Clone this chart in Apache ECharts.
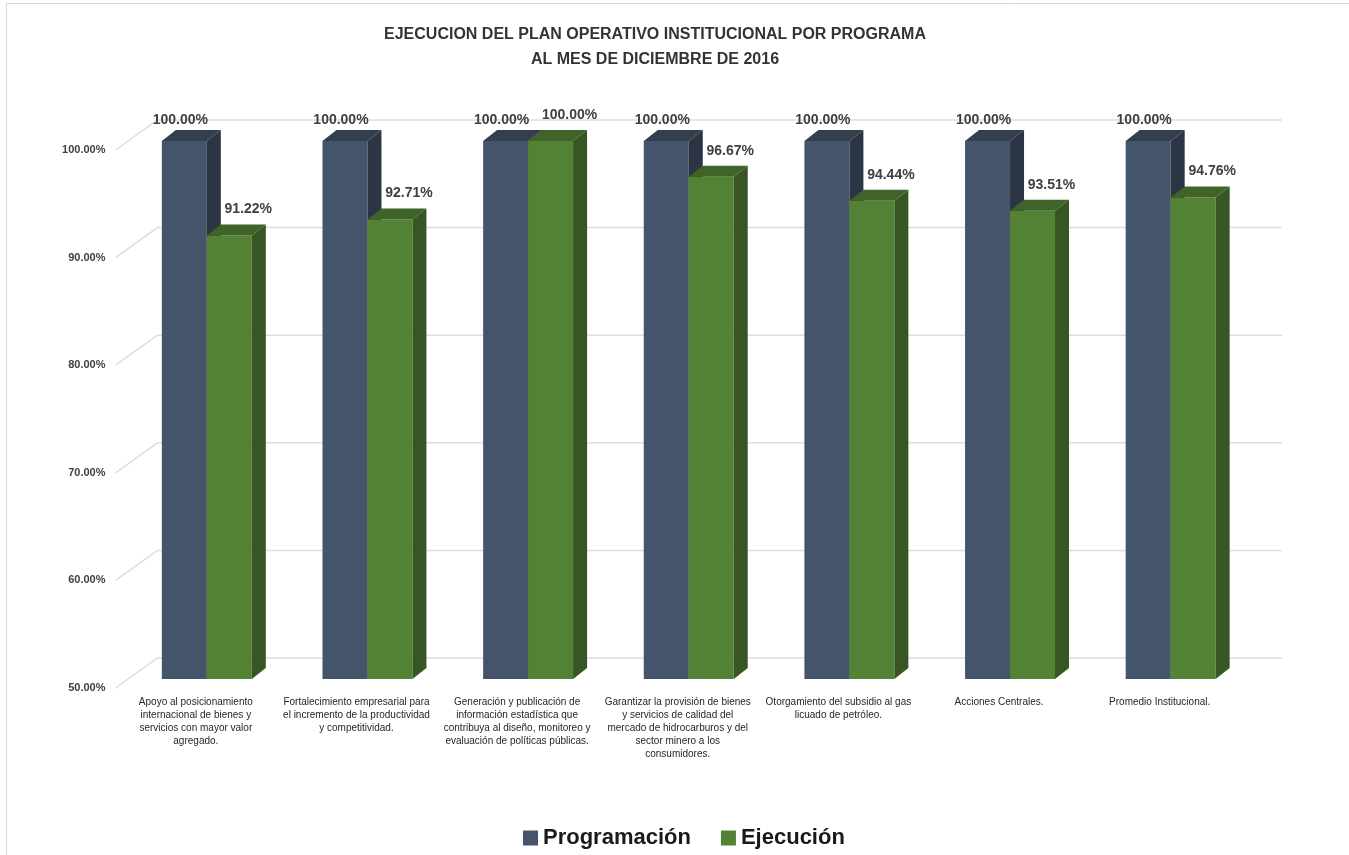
<!DOCTYPE html>
<html><head><meta charset="utf-8">
<script src="https://cdn.jsdelivr.net/npm/echarts@6/dist/echarts.min.js"></script>
<style>html,body{margin:0;padding:0;background:#fff}#c{width:1349px;height:855px}</style>
</head><body><div id="c"></div>
<script>
const categories = [
  "Apoyo al posicionamiento\ninternacional de bienes y\nservicios con mayor valor\nagregado.",
  "Fortalecimiento empresarial para\nel incremento de la productividad\ny competitividad.",
  "Generación y publicación de\ninformación estadística que\ncontribuya al diseño, monitoreo y\nevaluación de políticas públicas.",
  "Garantizar la provisión de bienes\ny servicios de calidad del\nmercado de hidrocarburos y del\nsector minero a los\nconsumidores.",
  "Otorgamiento del subsidio al gas\nlicuado de petróleo.",
  "Acciones Centrales.",
  "Promedio Institucional."
];
const programacion = [100, 100, 100, 100, 100, 100, 100];
const ejecucion = [91.22, 92.71, 100, 96.67, 94.44, 93.51, 94.76];
const yTicks = [50, 60, 70, 80, 90, 100];

const chart = echarts.init(document.getElementById('c'));
const FONT = '"Liberation Sans", Arial, sans-serif';
const SHIFT = [11, -9];
const DEPTH = [14, -11];
const WALL = [42, -30];
const palProg = {front: '#44546a', top: '#333f50', side: '#2b3544'};
const palEjec = {front: '#548235', top: '#3f6328', side: '#375623'};

function barRenderer(side, pal, labelDx, labelDy) {
  return function (params, api) {
    const cat = api.value(0), val = api.value(1);
    const top = api.coord([cat, val]);
    const base = api.coord([cat, 50]);
    const bw = api.size([1, 0])[0] * 0.28;
    const x0 = top[0] + SHIFT[0] + (side < 0 ? -bw : 0);
    const x1 = x0 + bw;
    const yt = top[1] + SHIFT[1];
    const yb = base[1] + SHIFT[1];
    const dx = DEPTH[0], dy = DEPTH[1];
    return {type: 'group', children: [
      {type: 'polygon', shape: {points: [[x0, yt], [x1, yt], [x1, yb], [x0, yb]]}, style: {fill: pal.front}},
      {type: 'polygon', shape: {points: [[x0, yt], [x0 + dx, yt + dy], [x1 + dx, yt + dy], [x1, yt]]}, style: {fill: pal.top}},
      {type: 'polygon', shape: {points: [[x1, yt], [x1 + dx, yt + dy], [x1 + dx, yb + dy], [x1, yb]]}, style: {fill: pal.side}},
      {type: 'text', style: {text: val.toFixed(2) + '%', x: (x0 + x1) / 2 + labelDx, y: yt - labelDy,
        align: 'center', verticalAlign: 'middle', font: 'bold 14px ' + FONT, fill: '#404040'}}
    ]};
  };
}

chart.setOption({
  backgroundColor: '#ffffff',
  animation: false,
  title: {
    text: 'EJECUCION DEL PLAN OPERATIVO INSTITUCIONAL POR PROGRAMA\nAL MES DE DICIEMBRE DE 2016',
    left: 650, top: 17, textAlign: 'center',
    textStyle: {fontFamily: FONT, fontSize: 16, fontWeight: 'bold', lineHeight: 25, color: '#333333'}
  },
  graphic: [
    {type: 'line', shape: {x1: 6.5, y1: 3.5, x2: 1349, y2: 3.5}, style: {stroke: '#d9d9d9', lineWidth: 1}},
    {type: 'line', shape: {x1: 6.5, y1: 3.5, x2: 6.5, y2: 855}, style: {stroke: '#d9d9d9', lineWidth: 1}}
  ],
  legend: {
    data: ['Programación', 'Ejecución'],
    icon: 'rect', itemWidth: 15, itemHeight: 15, itemGap: 30,
    left: 518, top: 822,
    textStyle: {fontFamily: FONT, fontSize: 22, fontWeight: 'bold', color: '#1a1a1a'}
  },
  grid: {left: 115.5, right: 109, top: 150, bottom: 167, containLabel: false},
  xAxis: {
    type: 'category', data: categories,
    axisLine: {show: false}, axisTick: {show: false}, splitLine: {show: false},
    axisLabel: {interval: 0, fontFamily: FONT, fontSize: 10, lineHeight: 13, color: '#262626', margin: 8}
  },
  yAxis: {
    type: 'value', min: 50, max: 100, interval: 10,
    axisLine: {show: false}, axisTick: {show: false}, splitLine: {show: false},
    axisLabel: {fontFamily: FONT, fontSize: 11, fontWeight: 'bold', color: '#404040', margin: 10,
      formatter: v => v.toFixed(2) + '%'}
  },
  series: [
    {
      type: 'custom', name: 'grid', silent: true, clip: false, z: 1,
      data: yTicks.map(v => [0, v]),
      renderItem: function (params, api) {
        const cs = params.coordSys;
        const y = api.coord([0, api.value(1)])[1];
        const x = cs.x;
        return {type: 'polyline', shape: {points: [[x, y], [x + WALL[0], y + WALL[1]], [x + cs.width + WALL[0], y + WALL[1]]]},
          style: {stroke: '#dedede', lineWidth: 1.5, fill: null}};
      }
    },
    {
      type: 'custom', name: 'Programación', clip: false, z: 2,
      itemStyle: {color: palProg.front},
      data: programacion.map((v, i) => [i, v]),
      renderItem: barRenderer(-1, palProg, -4, 21)
    },
    {
      type: 'custom', name: 'Ejecución', clip: false, z: 3,
      itemStyle: {color: palEjec.front},
      data: ejecucion.map((v, i) => [i, v]),
      renderItem: barRenderer(1, palEjec, 19, 26)
    }
  ]
});
</script>
</body></html>
